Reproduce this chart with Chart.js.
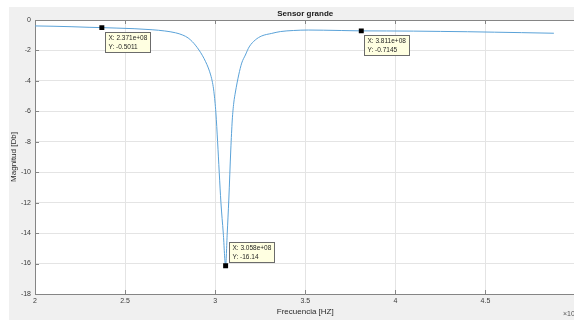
<!DOCTYPE html>
<html>
<head>
<meta charset="utf-8">
<script src="https://cdn.jsdelivr.net/npm/chart.js@4"></script>
<style>
  html, body { margin: 0; padding: 0; background: #fff; overflow: hidden; }
  #wrap { position: relative; width: 574px; height: 320px; overflow: hidden; }
  canvas { position: absolute; left: 0; top: 0; }
</style>
</head>
<body>
<div id="wrap"><canvas id="chart" width="579" height="320"></canvas></div>
<script>
  // frequency in units of 1e8 Hz
  const freq = [
    2.00, 2.10, 2.20, 2.30, 2.371, 2.45, 2.55, 2.65, 2.72, 2.78,
    2.82, 2.85, 2.873, 2.89, 2.91, 2.93, 2.947, 2.962, 2.975, 2.985,
    2.993, 3.004, 3.0135, 3.0225, 3.032, 3.045, 3.058, 3.067, 3.0756, 3.0866,
    3.0949, 3.1032, 3.1125, 3.1307, 3.1473, 3.1677, 3.1886, 3.2228, 3.258, 3.314,
    3.362, 3.434, 3.517, 3.60, 3.70, 3.811, 3.95, 4.10, 4.25, 4.40,
    4.55, 4.70, 4.88
  ];
  const magnitude = [
    -0.39, -0.41, -0.44, -0.48, -0.50, -0.53, -0.57, -0.64, -0.72, -0.84,
    -0.99, -1.18, -1.42, -1.65, -1.97, -2.35, -2.74, -3.15, -3.61, -4.10,
    -4.71, -6.10, -8.00, -10.0, -12.0, -14.0, -16.14, -14.0, -11.83, -8.54,
    -6.57, -5.45, -4.73, -3.61, -2.83, -2.30, -1.77, -1.31, -1.05, -0.88,
    -0.76, -0.69, -0.66, -0.67, -0.69, -0.7145, -0.72, -0.73, -0.75, -0.77,
    -0.80, -0.83, -0.87
  ];

  const tipFreq = [2.371, 3.058, 3.811];
  const tipMag = [-0.5011, -16.14, -0.7145];

  const xTicks = [2, 2.5, 3, 3.5, 4, 4.5];
  const yTicks = [0, -2, -4, -6, -8, -10, -12, -14, -16, -18];

  const FONT = "'Liberation Sans', Arial, sans-serif";
  const AXIS_COLOR = '#858585';
  const GRID_COLOR = '#e4e4e4';
  const TEXT_COLOR = '#3a3a3a';

  const backgroundPlugin = {
    id: 'figureBackground',
    beforeDraw: function (chart) {
      const ctx = chart.ctx;
      const area = chart.chartArea;
      ctx.save();
      ctx.fillStyle = '#ffffff';
      ctx.fillRect(0, 0, chart.width, chart.height);
      ctx.fillStyle = '#f0f0f0';
      ctx.fillRect(9, 7, chart.width - 9, chart.height - 7);
      ctx.fillStyle = '#ffffff';
      ctx.fillRect(area.left, area.top, area.right - area.left, area.bottom - area.top);
      ctx.restore();
    },
  };

  /* inward tick marks, top box line and the exponent label */
  const axesPlugin = {
    id: 'matlabAxes',
    afterDraw: function (chart) {
      const ctx = chart.ctx;
      const area = chart.chartArea;
      const xs = chart.scales.x;
      const ys = chart.scales.y;
      ctx.save();
      ctx.strokeStyle = AXIS_COLOR;
      ctx.lineWidth = 1;
      ctx.beginPath();
      ctx.moveTo(area.left, area.top + 0.5);
      ctx.lineTo(area.right, area.top + 0.5);
      xTicks.forEach(function (v) {
        const px = Math.round(xs.getPixelForValue(v)) + 0.5;
        ctx.moveTo(px, area.bottom);
        ctx.lineTo(px, area.bottom - 4);
        ctx.moveTo(px, area.top);
        ctx.lineTo(px, area.top + 4);
      });
      yTicks.forEach(function (v) {
        const py = Math.round(ys.getPixelForValue(v)) + 0.5;
        ctx.moveTo(area.left, py);
        ctx.lineTo(area.left + 4, py);
      });
      ctx.stroke();

      ctx.fillStyle = '#555';
      ctx.font = '7px ' + FONT;
      ctx.textBaseline = 'middle';
      ctx.textAlign = 'left';
      ctx.fillText('\u00d710', 563, 314);
      ctx.font = '5px ' + FONT;
      ctx.fillText('8', 574, 310);
      ctx.restore();
    },
  };

  /* data tip boxes next to the marked points */
  const dataTipPlugin = {
    id: 'dataTips',
    afterDatasetsDraw: function (chart) {
      const ctx = chart.ctx;
      const xs = chart.scales.x;
      const ys = chart.scales.y;
      ctx.save();
      ctx.font = '6.5px ' + FONT;
      ctx.textBaseline = 'middle';
      ctx.textAlign = 'left';
      tipFreq.forEach(function (f, i) {
        const px = xs.getPixelForValue(f);
        const py = ys.getPixelForValue(tipMag[i]);
        const w = 45;
        const h = 20;
        const bx = Math.round(px + 3) + 0.5;
        const by = Math.round(tipMag[i] < -10 ? py - 24 : py + 4) + 0.5;
        ctx.fillStyle = '#ffffe1';
        ctx.strokeStyle = '#6b6b6b';
        ctx.lineWidth = 1;
        ctx.fillRect(bx, by, w, h);
        ctx.strokeRect(bx, by, w, h);
        ctx.fillStyle = '#1e1e1e';
        ctx.fillText('X: ' + f.toFixed(3) + 'e+08', bx + 3, by + 5.5);
        ctx.fillText('Y: ' + tipMag[i], bx + 3, by + 14.5);
      });
      ctx.restore();
    },
  };

  const curve = freq.map(function (f, i) {
    return { x: f, y: magnitude[i] };
  });
  const tips = tipFreq.map(function (f, i) {
    return { x: f, y: tipMag[i] };
  });

  const ctx = document.getElementById('chart').getContext('2d');

  // eslint-disable-next-line
  const chart = new Chart(ctx, {
    type: 'scatter',
    data: {
      datasets: [
        {
          label: 'Data tips',
          data: tips,
          pointStyle: 'rect',
          pointRadius: 3.5,
          pointHoverRadius: 3.5,
          backgroundColor: '#000',
          borderColor: '#000',
          borderWidth: 0,
          showLine: false,
        },
        {
          label: 'Sensor grande',
          data: curve,
          showLine: true,
          borderColor: '#5aa2d8',
          borderWidth: 1,
          pointRadius: 0,
          cubicInterpolationMode: 'monotone',
        },
      ],
    },
    options: {
      responsive: false,
      animation: false,
      layout: { padding: 0 },
      plugins: {
        legend: { display: false },
        tooltip: { enabled: false },
        title: {
          display: true,
          text: 'Sensor grande',
          fullSize: false,
          color: '#1a1a1a',
          font: { family: FONT, size: 8, weight: 'bold', lineHeight: 1.2 },
          padding: { top: 9, bottom: 1.4 },
        },
      },
      scales: {
        x: {
          type: 'linear',
          min: 2,
          max: 5,
          afterBuildTicks: function (scale) {
            scale.ticks = xTicks.map(function (v) { return { value: v }; });
          },
          afterFit: function (scale) {
            scale.height = 26;
          },
          ticks: {
            color: TEXT_COLOR,
            font: { family: FONT, size: 7 },
            padding: 3,
            maxRotation: 0,
            autoSkip: false,
            callback: function (v) { return String(v); },
          },
          grid: { color: GRID_COLOR, drawTicks: false },
          border: { display: true, color: AXIS_COLOR, width: 1 },
          title: {
            display: true,
            text: 'Frecuencia [HZ]',
            color: '#2a2a2a',
            font: { family: FONT, size: 8, lineHeight: 1.2 },
            padding: { top: 0, bottom: 3.2 },
          },
        },
        y: {
          type: 'linear',
          min: -18,
          max: 0,
          afterBuildTicks: function (scale) {
            scale.ticks = yTicks.map(function (v) { return { value: v }; });
          },
          afterFit: function (scale) {
            scale.width = 35;
          },
          ticks: {
            color: TEXT_COLOR,
            font: { family: FONT, size: 7 },
            padding: 4,
            autoSkip: false,
            callback: function (v) { return String(v); },
          },
          grid: { color: GRID_COLOR, drawTicks: false },
          border: { display: true, color: AXIS_COLOR, width: 1 },
          title: {
            display: true,
            text: 'Magnitud [Db]',
            color: '#2a2a2a',
            font: { family: FONT, size: 8, lineHeight: 1.2 },
            padding: { top: 9.2, bottom: 0 },
          },
        },
      },
    },
    plugins: [backgroundPlugin, axesPlugin, dataTipPlugin],
  });
</script>
</body>
</html>
